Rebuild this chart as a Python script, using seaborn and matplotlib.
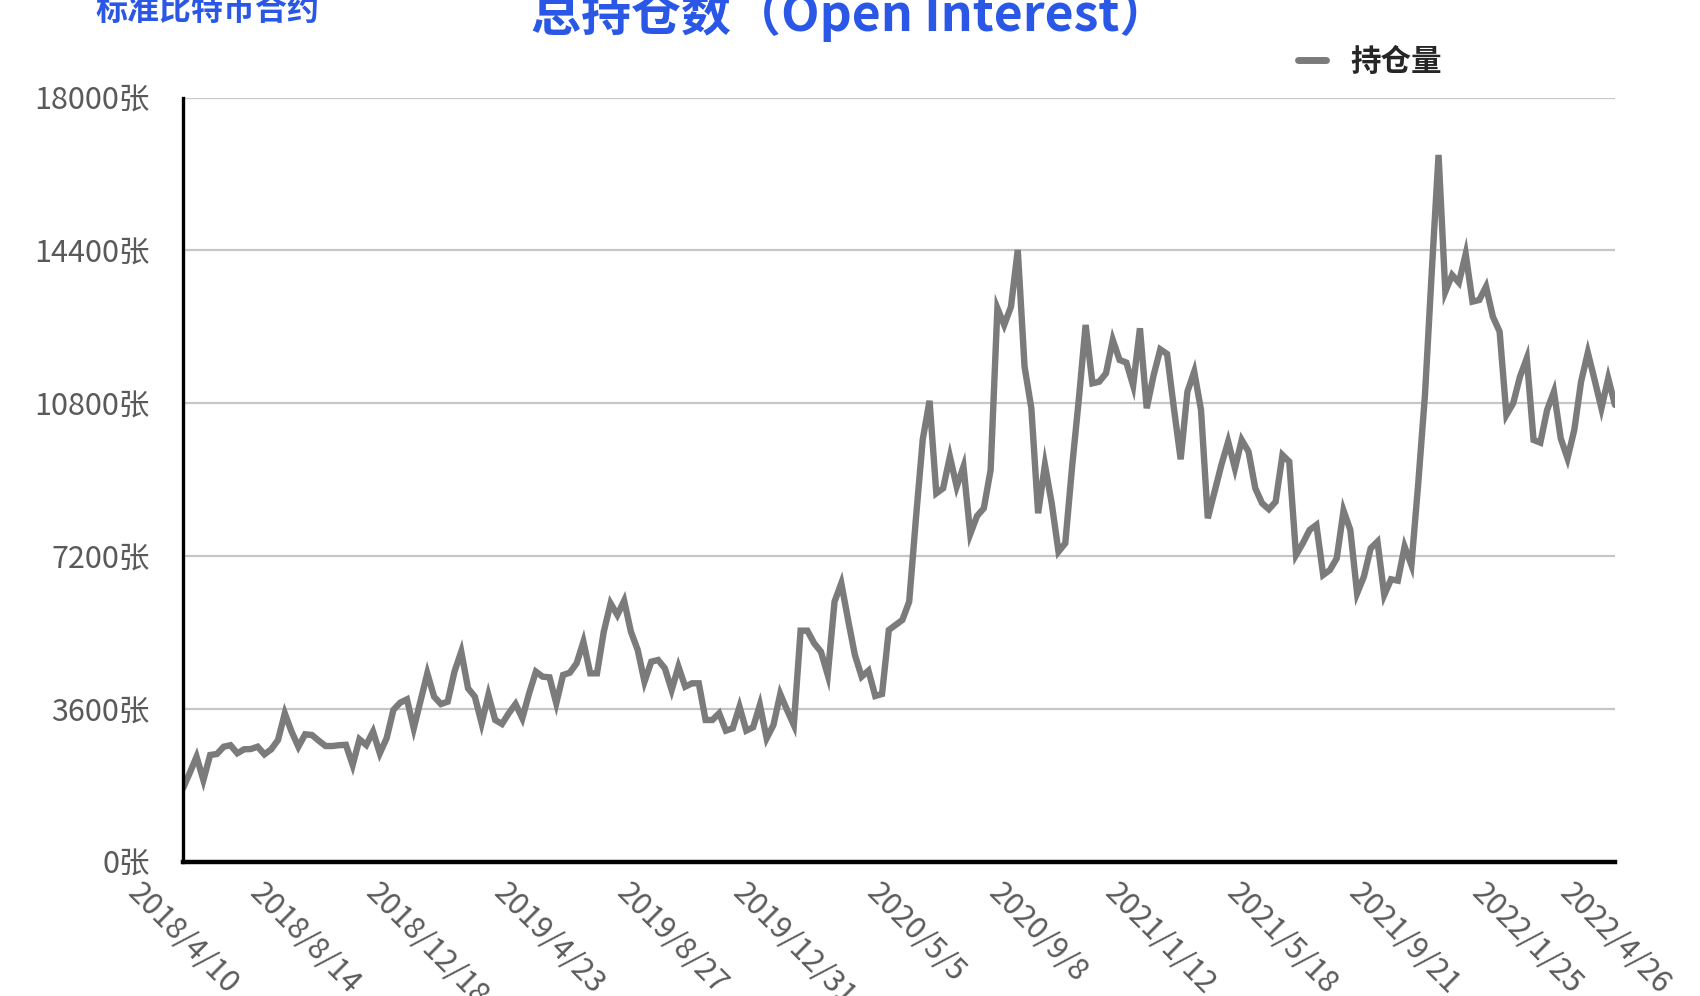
import pandas as pd
import matplotlib
matplotlib.use("Agg")
import matplotlib.pyplot as plt
import seaborn as sns

# weekly open interest (contracts)
start_date = "2018-04-10"
open_interest = [
    1735, 2100, 2480, 1930, 2520, 2543, 2715, 2750, 2560, 2654,
    2660, 2715, 2535, 2654, 2873, 3500, 3070, 2715, 3007, 2990,
    2857, 2731, 2731, 2750, 2760, 2285, 2890, 2755, 3070, 2560,
    2913, 3580, 3752, 3830, 3148, 3800, 4443, 3893, 3720, 3775,
    4482, 4953, 4090, 3893, 3266, 3933, 3344, 3250, 3502, 3720,
    3384, 3972, 4482, 4364, 4349, 3737, 4404, 4458, 4679, 5188,
    4443, 4443, 5423, 6090, 5817, 6153, 5423, 4993, 4246, 4717,
    4757, 4561, 4050, 4600, 4129, 4208, 4208, 3344, 3344, 3502,
    3093, 3148, 3657, 3093, 3172, 3697, 2913, 3226, 3956, 3580,
    3226, 5447, 5447, 5150, 4953, 4404, 6130, 6563, 5699, 4875,
    4364, 4505, 3909, 3956, 5463, 5580, 5700, 6130, 8100, 9950,
    10860, 8683, 8800, 9545, 8840, 9310, 7724, 8148, 8330, 9232,
    13040, 12647, 13078, 14413, 11665, 10685, 8212, 9350, 8448, 7308,
    7505, 9300, 10900, 12647, 11272, 11310, 11508, 12293, 11822, 11760,
    11220, 12568, 10685, 11450, 12072, 11963, 10690, 9483, 11076, 11547,
    10645, 8094, 8722, 9350, 9899, 9271, 9938, 9663, 8800, 8448,
    8306, 8485, 9585, 9428, 7230, 7505, 7819, 7937, 6760, 6877,
    7152, 8274, 7819, 6327, 6720, 7387, 7543, 6288, 6657, 6625,
    7426, 6994, 8900, 11000, 13900, 16650, 13430, 13823, 13643, 14319,
    13196, 13235, 13549, 12842, 12489, 10527, 10802, 11430, 11862, 9938,
    9875, 10645, 11076, 9978, 9507, 10174, 11310, 11994, 11350, 10685,
    11390, 10762,
]
y_ticks = [0, 3600, 7200, 10800, 14400, 18000]
title = "总持仓数（Open Interest）"
subtitle = "标准比特币合约"
series_name = "持仓量"

dates = pd.date_range(start_date, periods=len(open_interest), freq="7D")
df = pd.DataFrame({"idx": range(len(open_interest)), "oi": open_interest})
tick_idx = list(range(0, len(df), 18)) + [len(df) - 1]
tick_labels = [f"{dates[i].year}/{dates[i].month}/{dates[i].day}" for i in tick_idx]

sns.set_theme(style="white")
plt.rcParams["font.family"] = ["Noto Sans CJK SC", "DejaVu Sans"]

blue = "#2a57e6"
grey_line = "#7b7b7b"
grey_text = "#5a5a5a"

fig = plt.figure(figsize=(17, 9.96), dpi=100)
ax = fig.add_axes([183 / 1700, 1 - 862 / 996, (1615 - 183) / 1700, (862 - 97.6) / 996])

sns.lineplot(data=df, x="idx", y="oi", ax=ax, color=grey_line, linewidth=4.6,
             label=series_name, solid_joinstyle="miter")

ax.set_xlim(0, len(df) - 1)
ax.set_ylim(0, 18000)
ax.set_yticks(y_ticks)
ax.set_yticklabels([f"{v}张" for v in y_ticks], fontsize=22, color=grey_text)
ax.set_xticks(tick_idx)
ax.set_xticklabels(tick_labels, rotation=-45, ha="center", va="top",
                   fontsize=22, color=grey_text)
ax.tick_params(axis="y", length=0, pad=24)
ax.tick_params(axis="x", length=0, pad=11)
ax.set_xlabel("")
ax.set_ylabel("")

ax.yaxis.grid(True, color="#c6c6c6", linewidth=1.6)
ax.xaxis.grid(False)
ax.set_axisbelow(True)
for side in ["top", "right"]:
    ax.spines[side].set_visible(False)
ax.spines["left"].set_color("black")
ax.spines["left"].set_linewidth(2.4)
ax.spines["bottom"].set_color("black")
ax.spines["bottom"].set_linewidth(3.2)

leg = ax.legend(loc="center left", bbox_to_anchor=(1298 / 1700, 1 - 62 / 996),
                bbox_transform=fig.transFigure, frameon=False, handlelength=0.9,
                handletextpad=0.8, borderpad=0, borderaxespad=0,
                prop={"size": 22, "weight": "bold"})
for h in leg.get_lines():
    h.set_linewidth(5)

fig.text(0.5, 1 - 15 / 996, title, ha="center", va="center", fontsize=36,
         fontweight="bold", color=blue)
fig.text(95 / 1700, 1 - 11 / 996, subtitle, ha="left", va="center", fontsize=23,
         fontweight="bold", color=blue)

fig.savefig("out.png", dpi=100)
